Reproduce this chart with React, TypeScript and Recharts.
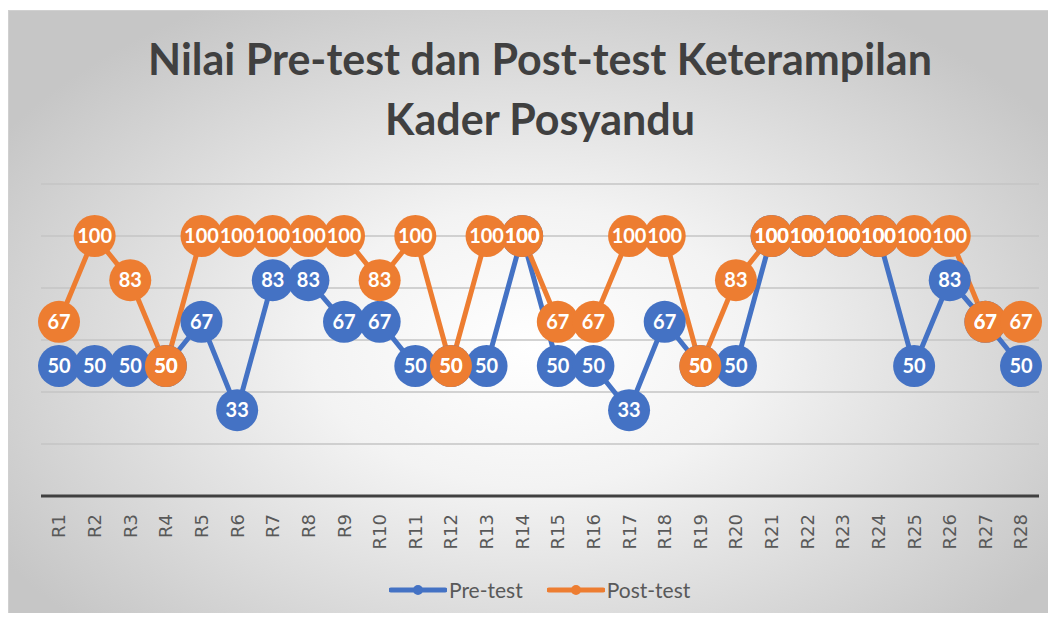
import React from 'react';
import { LineChart, Line, XAxis, YAxis, CartesianGrid, LabelList } from 'recharts';

const respondents = [
    'R1', 'R2', 'R3', 'R4', 'R5', 'R6', 'R7', 'R8', 'R9', 'R10',
    'R11', 'R12', 'R13', 'R14', 'R15', 'R16', 'R17', 'R18', 'R19', 'R20',
    'R21', 'R22', 'R23', 'R24', 'R25', 'R26', 'R27', 'R28',
];
const preTest = [50, 50, 50, 50, 67, 33, 83, 83, 67, 67, 50, 50, 50, 100, 50, 50, 33, 67, 50, 50, 100, 100, 100, 100, 50, 83, 67, 50];
const postTest = [67, 100, 83, 50, 100, 100, 100, 100, 100, 83, 100, 50, 100, 100, 67, 67, 100, 100, 50, 83, 100, 100, 100, 100, 100, 100, 67, 67];
const yTicks = [0, 20, 40, 60, 80, 100, 120];

const BLUE = '#4472C4';
const ORANGE = '#ED7D31';

const data = respondents.map((r, i) => ({ name: r, pre: preTest[i], post: postTest[i] }));

const RotatedTick = (props: any) => {
    const { x, y, payload } = props;
    return (
        <g transform={`translate(${x},${y + 18})`}>
            <text transform="rotate(-90)" textAnchor="end" dy="0.36em" fill="#595959" fontSize={18} fontFamily="DejaVu Sans">
                {payload.value}
            </text>
        </g>
    );
};

export default function App() {
    return (
        <div style={{ position: 'relative', width: 1056, height: 621, margin: -8, background: '#fff', overflow: 'hidden' }}>
            <div
                style={{
                    position: 'absolute', left: 8, top: 10, width: 1048, height: 611,
                    background: 'radial-gradient(ellipse 60% 65% at 50% 55%, #ffffff 0%, #f3f3f3 35%, #d4d4d4 80%, #c6c6c6 100%)',
                    borderTop: '1px solid #d0d0d0', borderLeft: '1px solid #d0d0d0',
                }}
            >
                {/* Title */}
                <div style={{
                    position: 'absolute', left: 32, width: 998, top: 18, textAlign: 'center',
                    fontFamily: 'Lato', fontWeight: 700, fontSize: 43, lineHeight: '60px', color: '#404040',
                }}>
                    Nilai Pre-test dan Post-test Keterampilan<br />Kader Posyandu
                </div>

                <LineChart width={1048} height={611} data={data} margin={{ top: 173, right: 18, left: 32, bottom: 66 }}>
                    <CartesianGrid vertical={false} stroke="#c4c4c4" strokeWidth={1.5} />
                    <YAxis hide domain={[0, 120]} ticks={yTicks} />
                    <XAxis
                        dataKey="name"
                        interval={0}
                        height={60}
                        padding={{ left: 18, right: 18 }}
                        tickLine={false}
                        tickSize={0}
                        tickMargin={0}
                        axisLine={{ stroke: '#404040', strokeWidth: 3 }}
                        tick={<RotatedTick />}
                    />
                    <Line type="linear" dataKey="pre" name="Pre-test" stroke={BLUE} strokeWidth={5}
                        dot={{ r: 21, fill: BLUE, stroke: BLUE, strokeWidth: 0 }} activeDot={false} isAnimationActive={false}>
                        <LabelList dataKey="pre" position="center" fill="#fff" stroke="none" fontSize={20} fontWeight={700} fontFamily="Lato" />
                    </Line>
                    <Line type="linear" dataKey="post" name="Post-test" stroke={ORANGE} strokeWidth={5}
                        dot={{ r: 21, fill: ORANGE, stroke: ORANGE, strokeWidth: 0 }} activeDot={false} isAnimationActive={false}>
                        <LabelList dataKey="post" position="center" fill="#fff" stroke="none" fontSize={20} fontWeight={700} fontFamily="Lato" />
                    </Line>
                </LineChart>

                {/* Legend */}
                <div style={{
                    position: 'absolute', left: 380, top: 566, display: 'flex', alignItems: 'center',
                    fontFamily: 'Lato', fontSize: 21, color: '#595959',
                }}>
                    {[{ label: 'Pre-test', color: BLUE }, { label: 'Post-test', color: ORANGE }].map((item, i) => (
                        <div key={item.label} style={{ display: 'flex', alignItems: 'center', marginLeft: i ? 24 : 0 }}>
                            <svg width={58} height={14}>
                                <line x1={2} y1={7} x2={56} y2={7} stroke={item.color} strokeWidth={5} strokeLinecap="round" />
                                <circle cx={29} cy={7} r={5} fill={item.color} />
                            </svg>
                            <span style={{ marginLeft: 2 }}>{item.label}</span>
                        </div>
                    ))}
                </div>
            </div>
        </div>
    );
}
